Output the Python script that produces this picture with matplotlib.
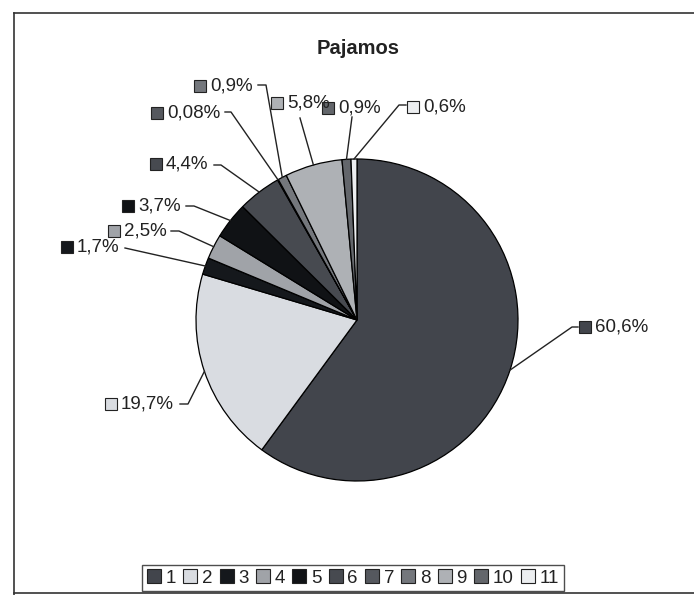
import numpy as np
import matplotlib.pyplot as plt
from matplotlib.patches import Patch

plt.rcParams['font.family'] = ['Liberation Sans', 'DejaVu Sans']

# Data
categories = ["1", "2", "3", "4", "5", "6", "7", "8", "9", "10", "11"]
shares = [60.6, 19.7, 1.7, 2.5, 3.7, 4.4, 0.08, 0.9, 5.8, 0.9, 0.6]
share_labels = ["60,6%", "19,7%", "1,7%", "2,5%", "3,7%", "4,4%",
                "0,08%", "0,9%", "5,8%", "0,9%", "0,6%"]
colors = ["#42454c", "#d9dce1", "#15181c", "#a0a3a8", "#101215", "#474a50",
          "#55585e", "#74777c", "#aeb1b5", "#63666b", "#eceef0"]

W, H = 694, 595

# label layout in pixel coords: square marker, point where leader leaves label, elbow
label_pos = [(585, 327), (111, 404), (67, 247), (114, 231), (128, 206), (156, 164),
             (157, 113), (200, 86), (277, 103), (328, 108), (413, 107)]
line_near = [(578, 327), (180, 404), (125, 248), (171, 231), (186, 206), (214, 165),
             (225, 112), (258, 85), (300, 118), (352, 117), (406, 105)]
line_elbow = [(572, 327), (188, 404), (125, 248), (179, 231), (194, 206), (221, 165),
              (231, 112), (266, 85), (300, 118), (352, 117), (399, 105)]


def px(x, y):
    return x, H - y


fig = plt.figure(figsize=(W / 100, H / 100), dpi=100)
ax = fig.add_axes([0, 0, 1, 1])

cx, cy = px(357, 320)
r = 161
wedges, _ = ax.pie(shares, colors=colors, startangle=90, counterclock=False,
                   center=(cx, cy), radius=r, frame=True,
                   wedgeprops=dict(edgecolor="black", linewidth=0.9))
ax.set_xlim(0, W)
ax.set_ylim(0, H)
ax.set_aspect("equal")
ax.axis("off")

for i, w in enumerate(wedges):
    mid = np.deg2rad((w.theta1 + w.theta2) / 2)
    ex, ey = cx + r * np.cos(mid), cy + r * np.sin(mid)
    nx, ny = px(*line_near[i])
    bx, by = px(*line_elbow[i])
    ax.plot([ex, bx, nx], [ey, by, ny], color="#222222", lw=1.0)
    sx, sy = px(*label_pos[i])
    ax.plot(sx, sy, marker="s", ms=8, mfc=colors[i], mec="#222222", mew=0.8)
    ax.text(sx + 10, sy, share_labels[i], fontsize=13.5, va="center", ha="left",
            color="#222222")

ax.text(*px(358, 48), "Pajamos", fontsize=14.5, fontweight="bold",
        ha="center", va="center", color="#222222")

# scanned frame
ax.plot([14, 14], [H - 13, 0], color="#333333", lw=1.2)
ax.plot([14, W], [H - 13, H - 13], color="#333333", lw=1.2)
ax.plot([14, W], [H - 593, H - 593], color="#333333", lw=1.2)

handles = [Patch(facecolor=c, edgecolor="#222222", lw=0.8) for c in colors]
fig.legend(handles, categories, ncol=11, loc="center",
           bbox_to_anchor=(353 / W, 1 - 578 / H), fontsize=13.5,
           handlelength=0.75, handleheight=0.75, handletextpad=0.25,
           columnspacing=0.38, borderpad=0.25, frameon=True, fancybox=False,
           edgecolor="#222222", labelcolor="#222222")

fig.savefig("out.png", dpi=100, facecolor="white")
